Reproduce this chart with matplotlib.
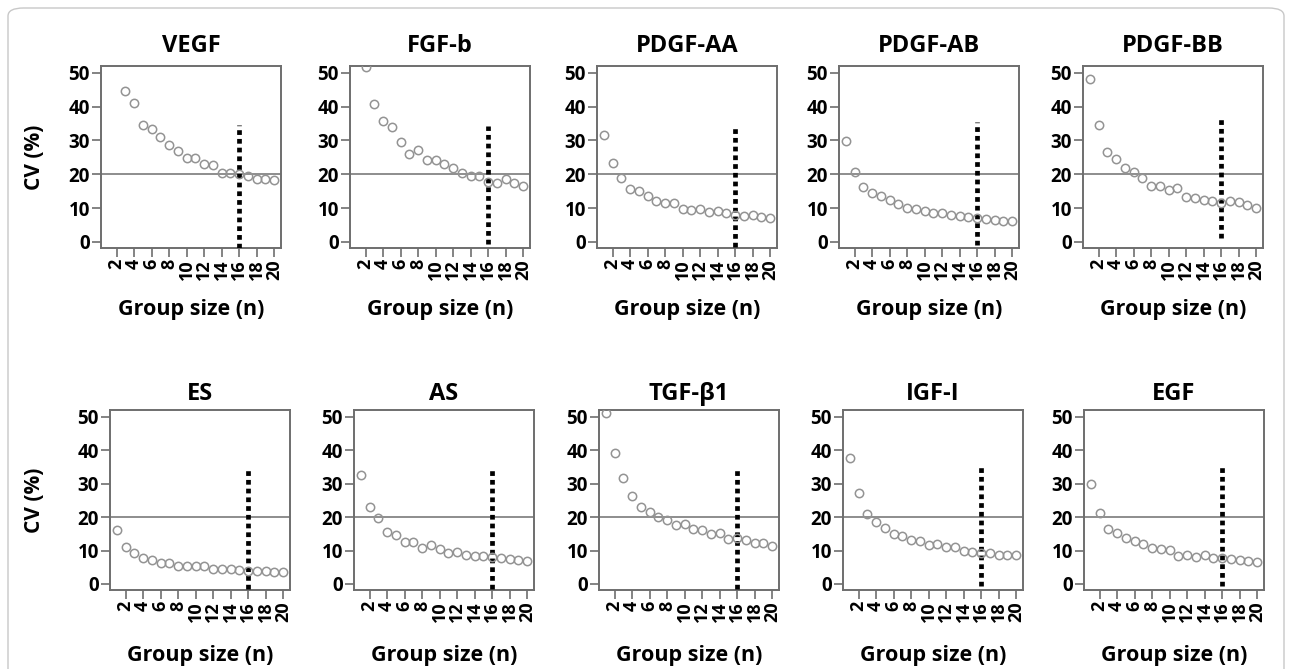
import matplotlib
matplotlib.use("Agg")
import matplotlib.pyplot as plt
from matplotlib.patches import FancyBboxPatch

plt.rcParams['font.family'] = ['Open Sans', 'DejaVu Sans']

titles = ["VEGF", "FGF-b", "PDGF-AA", "PDGF-AB", "PDGF-BB",
          "ES", "AS", "TGF-β1", "IGF-I", "EGF"]

vegf_n = [3, 4, 5, 6, 7, 8, 9, 10, 11, 12, 13, 14, 15, 16, 17, 18, 19, 20]
vegf_cv = [44.7, 41.1, 34.6, 33.3, 31.1, 28.5, 27.0, 24.8, 24.9, 22.9, 22.7,
           20.4, 20.5, 20.0, 19.6, 18.5, 18.5, 18.4]

fgfb_n = [2, 3, 4, 5, 6, 7, 8, 9, 10, 11, 12, 13, 14, 15, 16, 17, 18, 19, 20]
fgfb_cv = [51.6, 40.7, 35.7, 33.9, 29.5, 26.0, 27.2, 24.2, 24.2, 23.0, 21.8,
           20.3, 19.6, 19.4, 17.6, 17.5, 18.5, 17.4, 16.5]

full_n = [1, 2, 3, 4, 5, 6, 7, 8, 9, 10, 11, 12, 13, 14, 15, 16, 17, 18, 19, 20]

pdgfaa_cv = [31.6, 23.3, 18.9, 15.5, 15.0, 13.6, 12.0, 11.4, 11.4, 9.8, 9.5,
             9.7, 8.9, 9.2, 8.6, 7.9, 7.8, 7.9, 7.5, 7.2]
pdgfab_cv = [29.8, 20.6, 16.2, 14.5, 13.5, 12.4, 11.3, 10.1, 9.6, 9.1, 8.5,
             8.5, 8.1, 7.6, 7.5, 7.0, 6.8, 6.5, 6.2, 6.1]
pdgfbb_cv = [48.1, 34.5, 26.5, 24.5, 21.9, 20.6, 18.9, 16.5, 16.5, 15.4, 15.9,
             13.4, 13.0, 12.4, 12.2, 11.6, 12.0, 11.8, 11.0, 10.1]
es_cv = [16.2, 11.1, 9.3, 7.9, 7.1, 6.2, 6.3, 5.4, 5.4, 5.5, 5.3,
         4.5, 4.6, 4.5, 4.3, 4.0, 3.9, 3.8, 3.7, 3.6]
as_cv = [32.7, 22.9, 19.8, 15.6, 14.7, 12.6, 12.5, 10.9, 11.6, 10.5, 9.3,
         9.5, 8.8, 8.4, 8.4, 8.1, 7.7, 7.5, 7.3, 7.0]
tgfb1_cv = [51.2, 39.1, 31.7, 26.3, 22.9, 21.4, 20.1, 19.2, 17.5, 17.8, 16.4,
            16.0, 14.9, 15.2, 13.5, 13.7, 13.1, 12.1, 12.1, 11.3]
igf1_cv = [37.8, 27.3, 20.8, 18.6, 16.6, 15.0, 14.4, 13.1, 12.9, 11.6, 11.9,
           11.0, 11.1, 9.8, 9.7, 9.2, 9.2, 8.8, 8.8, 8.7]
egf_cv = [29.8, 21.1, 16.5, 15.3, 13.8, 12.8, 12.0, 10.7, 10.6, 10.2, 8.5,
          8.7, 8.2, 8.6, 7.7, 7.7, 7.6, 7.2, 6.9, 6.7]

series_n = [vegf_n, fgfb_n, full_n, full_n, full_n,
            full_n, full_n, full_n, full_n, full_n]
series_cv = [vegf_cv, fgfb_cv, pdgfaa_cv, pdgfab_cv, pdgfbb_cv,
             es_cv, as_cv, tgfb1_cv, igf1_cv, egf_cv]

threshold_cv = 20
chosen_n = 16
dotted_top = [34.5, 34.4, 34.5, 35.3, 37.3, 34.8, 34.8, 35.0, 36.0, 35.5]
dotted_bottom = [-1.8, -0.7, -1.4, -0.8, 1.2, -1.5, -1.5, -1.5, -0.5, -0.5]

x_ticks = [2, 4, 6, 8, 10, 12, 14, 16, 18, 20]
y_ticks = [0, 10, 20, 30, 40, 50]

W, H = 1292, 669
fig = plt.figure(figsize=(W / 100, H / 100), dpi=100)

# rounded frame
frame = FancyBboxPatch((8 / W, -0.05), (W - 16) / W, 1.05 - 8 / H,
                       boxstyle="round,pad=0,rounding_size=0.012",
                       transform=fig.transFigure, facecolor='none',
                       edgecolor='#c8c8c8', linewidth=1.0)
fig.patches.append(frame)

top_lefts = [101, 350, 597, 839, 1083]
bot_lefts = [110, 354, 599, 843, 1084]
ax_w = 180
# (axes top px, axes bottom px, lefts, title pad, xlabel centre px)
rows = [(66, 248, top_lefts, 10, 310), (410, 590, bot_lefts, 7, 655)]

spine_col = '#6e6e6e'
idx = 0
for r, (ytop, ybot, lefts, tpad, xlab_y) in enumerate(rows):
    for c, left in enumerate(lefts):
        ax_h = ybot - ytop
        ax = fig.add_axes([left / W, 1 - ybot / H, ax_w / W, ax_h / H])
        ax.set_xlim(0.2, 20.8)
        ax.set_ylim(-1.8, 52)
        ax.axhline(threshold_cv, color='#7a7a7a', lw=1.2, zorder=1)
        ax.plot([chosen_n, chosen_n], [dotted_bottom[idx], dotted_top[idx]],
                color='black', lw=3.4, linestyle=(0, (1, 0.85)),
                solid_capstyle='butt', dash_capstyle='butt', zorder=3)
        ax.plot(series_n[idx], series_cv[idx], linestyle='none', marker='o',
                markersize=6, markerfacecolor='none', markeredgecolor='#939393',
                markeredgewidth=1.1, zorder=4)
        for s in ax.spines.values():
            s.set_color(spine_col)
            s.set_linewidth(1.4)
        ax.set_xticks(x_ticks)
        ax.set_xticklabels([str(t) for t in x_ticks], rotation=90,
                           fontsize=13, fontweight='bold')
        ax.set_yticks(y_ticks)
        ax.set_yticklabels([str(t) for t in y_ticks], fontsize=13.5,
                           fontweight='bold')
        ax.tick_params(axis='both', direction='out', length=6.5, width=1.2,
                       color=spine_col, pad=1.5)
        ax.set_title(titles[idx], fontsize=17, fontweight='bold', pad=tpad)
        ax.set_xlabel("Group size (n)", fontsize=15.5, fontweight='bold')
        ax.xaxis.set_label_coords(0.5, -(xlab_y - ybot) / ax_h)
        ax.xaxis.label.set_va('center')
        if c == 0:
            ax.set_ylabel("CV (%)", fontsize=15, fontweight='bold')
            ax.yaxis.set_label_coords(-(left - 35) / ax_w, 0.5)
            ax.yaxis.label.set_va('center')
        idx += 1

fig.savefig("out.png", dpi=100)
